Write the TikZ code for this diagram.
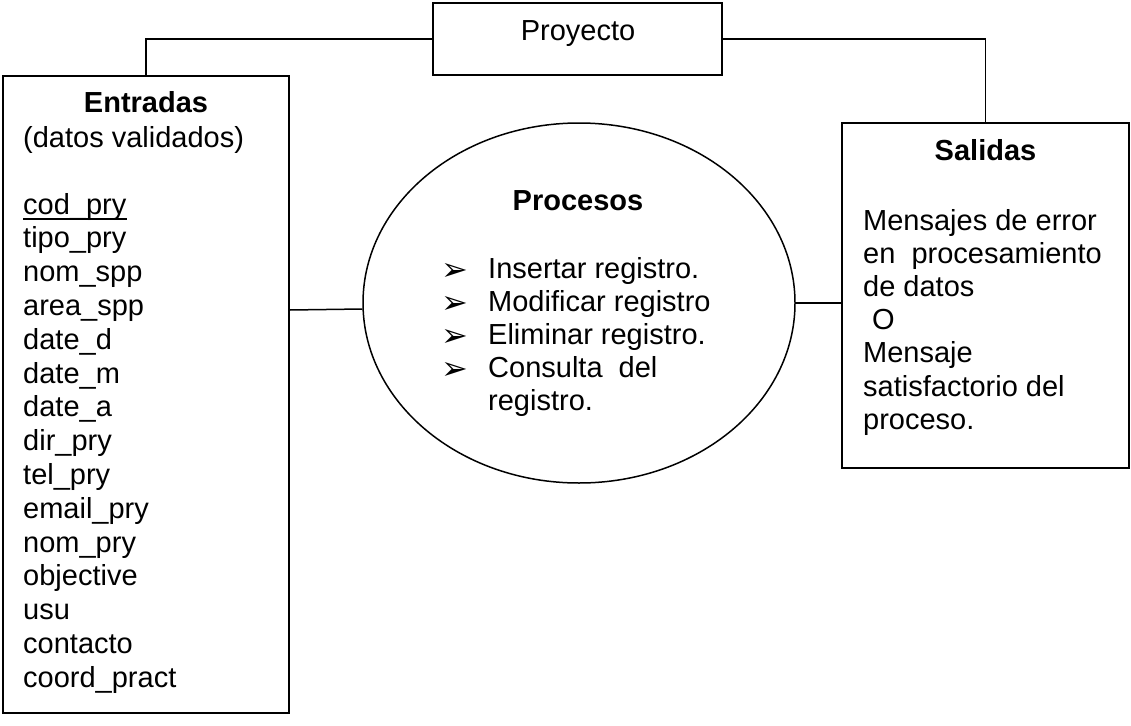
\documentclass[tikz,border=0pt]{standalone}
\usepackage{fontspec}
\setmainfont{Liberation Sans}
\newfontfamily\symfont{DejaVu Sans}
\usetikzlibrary{shapes.geometric}
\begin{document}
\begin{tikzpicture}[x=1pt,y=-1pt,
  box/.style={draw, line width=1.5pt, inner sep=0pt},
  conn/.style={line width=1.5pt},
  txt/.style={inner sep=0pt, anchor=base west, font=\fontsize{29}{33}\selectfont},
  ctxt/.style={txt, anchor=base},
  hd/.style={inner sep=0pt, anchor=base, font=\fontsize{29}{33}\selectfont\bfseries},
  bul/.style={inner sep=0pt, anchor=base west, font=\fontsize{32}{36}\symfont}]
\useasboundingbox (0,0) rectangle (1131,725);
% boxes
\node[box, minimum width=289pt, minimum height=72pt] (proy) at (577.5,39) {};
\node[box, minimum width=286pt, minimum height=637pt] (ent) at (146,394.5) {};
\node[box, minimum width=287pt, minimum height=345pt] (sal) at (985.5,295.5) {};
\node[draw, ellipse, line width=1.5pt, minimum width=432pt, minimum height=360pt, inner sep=0pt] (proc) at (579,303) {};
% connectors
\draw[conn] (ent.north) |- (proy.west);
\draw[conn] (proy.east) -| (sal.north);
\draw[conn] ([yshift=84.5pt]ent.east) -- ([yshift=-6pt]proc.west);
\draw[conn] (proc.east) -- (sal.west |- proc.east);
% Proyecto
\node[ctxt] (tproy) at (578,41) {Proyecto};
% Entradas
\node[hd] (tent) at (146,112) {Entradas};
\node[txt] (tdv) at (23,147) {(datos validados)};
\node[txt] (f0) at (23,214) {cod\_pry};
\draw[line width=1.5pt] ([yshift=-5pt]f0.base west) -- ([yshift=-5pt]f0.base east);
\foreach \t [count=\i] in {tipo\_pry, nom\_spp, area\_spp, date\_d, date\_m, date\_a, dir\_pry, tel\_pry, email\_pry, nom\_pry, objective, usu, contacto, coord\_pract}
  \node[txt] (f\i) at (23,214+\i*33.8) {\t};
% Procesos
\node[hd] (tproc) at (578,210) {Procesos};
\foreach \t [count=\i from 0] in {Insertar registro., Modificar registro, Eliminar registro., Consulta\ \ del}{
  \node[bul] (b\i) at (441,280+\i*33) {➢};
  \node[txt] (p\i) at (488,278+\i*33) {\t};
}
\node[txt] (p4) at (488,410) {registro.};
% Salidas
\node[hd] (tsal) at (985.5,160) {Salidas};
\node[txt] (s0) at (863,230) {Mensajes de error};
\node[txt] (s1) at (863,263.2) {en\ \ procesamiento};
\node[txt] (s2) at (863,296.4) {de datos};
\node[txt] (s3) at (872,329.6) {O};
\node[txt] (s4) at (863,362.8) {Mensaje};
\node[txt] (s5) at (863,396) {satisfactorio del};
\node[txt] (s6) at (863,429.2) {proceso.};
\end{tikzpicture}
\end{document}
